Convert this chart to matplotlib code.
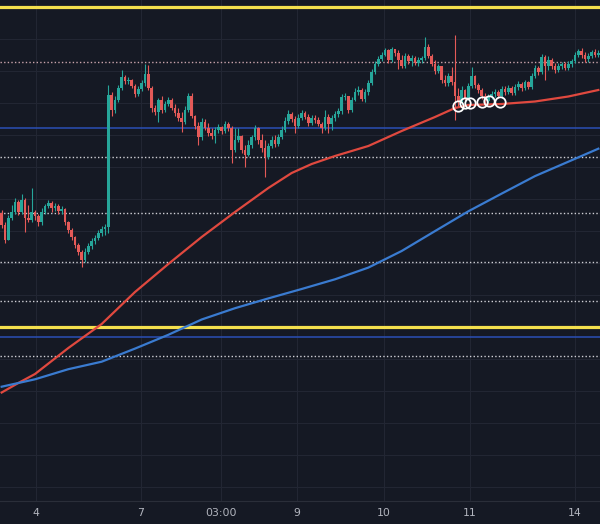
import numpy as np
import matplotlib
matplotlib.use("Agg")
import matplotlib.pyplot as plt

# ---------------- data ----------------
open0 = 147.87
closes = [
    147.75, 147.60, 147.82, 147.88, 147.98, 147.88, 148.00, 147.82, 147.80, 147.88,
    147.84, 147.78, 147.88, 147.94, 147.97, 147.92, 147.94, 147.89, 147.91, 147.78,
    147.70, 147.63, 147.55, 147.48, 147.40, 147.48, 147.54, 147.59, 147.62, 147.67,
    147.71, 147.73, 149.05, 148.90, 149.00, 149.12, 149.23, 149.19, 149.20, 149.14,
    149.06, 149.11, 149.17, 149.26, 149.12, 148.92, 148.88, 149.00, 148.90, 148.96,
    149.00, 148.92, 148.87, 148.82, 148.78, 148.90, 149.04, 148.84, 148.74, 148.63,
    148.78, 148.72, 148.67, 148.64, 148.70, 148.73, 148.69, 148.76, 148.72, 148.50,
    148.60, 148.64, 148.50, 148.45, 148.55, 148.63, 148.72, 148.60, 148.52, 148.43,
    148.54, 148.60, 148.56, 148.63, 148.70, 148.79, 148.86, 148.81, 148.74, 148.82,
    148.87, 148.83, 148.77, 148.82, 148.80, 148.76, 148.72, 148.83, 148.76, 148.82,
    148.86, 148.89, 149.03, 149.04, 148.90, 149.00, 149.08, 149.10, 149.01, 149.08,
    149.17, 149.28, 149.36, 149.41, 149.45, 149.50, 149.40, 149.51, 149.47, 149.40,
    149.34, 149.44, 149.39, 149.42, 149.37, 149.40, 149.42, 149.53, 149.44, 149.36,
    149.29, 149.34, 149.20, 149.17, 149.24, 149.18, 149.04, 148.98, 149.10, 149.02,
    149.14, 149.24, 149.15, 149.10, 149.04, 148.99, 149.03, 149.06, 149.08, 149.04,
    149.11, 149.08, 149.12, 149.07, 149.13, 149.16, 149.12, 149.18, 149.13, 149.24,
    149.32, 149.28, 149.43, 149.34, 149.40, 149.34, 149.30, 149.34, 149.36, 149.32,
    149.36, 149.39, 149.45, 149.49, 149.45, 149.41, 149.44, 149.48, 149.45, 149.47,
]
highs = [
    147.90, 147.78, 147.85, 147.95, 148.02, 148.00, 148.06, 148.02, 147.95, 148.12,
    147.90, 147.86, 147.92, 147.96, 148.00, 147.99, 147.97, 147.96, 147.94, 147.92,
    147.79, 147.72, 147.64, 147.57, 147.50, 147.52, 147.57, 147.62, 147.65, 147.70,
    147.74, 147.76, 149.15, 149.08, 149.04, 149.15, 149.30, 149.25, 149.23, 149.21,
    149.16, 149.14, 149.20, 149.36, 149.35, 149.14, 148.95, 149.02, 149.04, 148.99,
    149.03, 149.02, 148.96, 148.92, 148.88, 148.94, 149.07, 149.07, 148.85, 148.78,
    148.82, 148.81, 148.77, 148.72, 148.73, 148.76, 148.74, 148.79, 148.78, 148.74,
    148.72, 148.72, 148.65, 148.55, 148.60, 148.65, 148.75, 148.73, 148.66, 148.60,
    148.57, 148.64, 148.65, 148.66, 148.74, 148.83, 148.90, 148.88, 148.84, 148.86,
    148.90, 148.89, 148.86, 148.85, 148.85, 148.83, 148.78, 148.90, 148.86, 148.85,
    148.89, 148.92, 149.06, 149.07, 149.04, 149.03, 149.12, 149.14, 149.12, 149.11,
    149.20, 149.31, 149.39, 149.44, 149.48, 149.52, 149.51, 149.53, 149.51, 149.50,
    149.45, 149.47, 149.46, 149.45, 149.44, 149.43, 149.44, 149.63, 149.56, 149.46,
    149.40, 149.36, 149.34, 149.25, 149.27, 149.33, 149.65, 149.12, 149.14, 149.11,
    149.17, 149.33, 149.25, 149.17, 149.12, 149.07, 149.06, 149.09, 149.11, 149.10,
    149.14, 149.14, 149.15, 149.14, 149.16, 149.19, 149.18, 149.20, 149.19, 149.27,
    149.35, 149.34, 149.46, 149.45, 149.44, 149.42, 149.37, 149.37, 149.38, 149.38,
    149.39, 149.41, 149.48, 149.51, 149.52, 149.48, 149.47, 149.50, 149.51, 149.50,
]
lows = [
    147.72, 147.57, 147.60, 147.80, 147.86, 147.85, 147.86, 147.68, 147.78, 147.78,
    147.80, 147.74, 147.75, 147.86, 147.92, 147.88, 147.89, 147.86, 147.86, 147.75,
    147.67, 147.60, 147.52, 147.45, 147.33, 147.38, 147.46, 147.51, 147.56, 147.60,
    147.64, 147.65, 147.67, 148.84, 148.87, 148.98, 149.10, 149.16, 149.16, 149.12,
    149.03, 149.04, 149.09, 149.14, 149.10, 148.88, 148.85, 148.78, 148.87, 148.88,
    148.94, 148.90, 148.84, 148.79, 148.68, 148.76, 148.88, 148.82, 148.71, 148.55,
    148.60, 148.70, 148.64, 148.61, 148.57, 148.67, 148.66, 148.67, 148.69, 148.37,
    148.48, 148.58, 148.47, 148.33, 148.44, 148.52, 148.60, 148.56, 148.48, 148.23,
    148.41, 148.52, 148.53, 148.54, 148.61, 148.68, 148.76, 148.78, 148.67, 148.72,
    148.80, 148.81, 148.74, 148.75, 148.77, 148.74, 148.67, 148.70, 148.67, 148.70,
    148.79, 148.83, 148.86, 149.00, 148.87, 148.88, 148.99, 149.05, 148.99, 148.98,
    149.05, 149.15, 149.26, 149.34, 149.39, 149.44, 149.37, 149.38, 149.44, 149.31,
    149.32, 149.32, 149.36, 149.34, 149.35, 149.34, 149.37, 149.40, 149.42, 149.34,
    149.26, 149.27, 149.17, 149.14, 149.14, 149.15, 148.80, 148.94, 148.96, 148.99,
    149.00, 149.12, 149.12, 149.07, 149.01, 148.96, 148.97, 149.01, 149.03, 149.02,
    149.02, 149.05, 149.06, 149.05, 149.05, 149.10, 149.09, 149.10, 149.11, 149.11,
    149.22, 149.25, 149.26, 149.20, 149.30, 149.31, 149.27, 149.28, 149.31, 149.30,
    149.30, 149.33, 149.37, 149.43, 149.42, 149.38, 149.38, 149.42, 149.43, 149.43,
]

# moving averages (sampled at candle indices)
red_ma_idx = [0, 5, 10, 20, 30, 40, 50, 60, 70, 80, 87, 93, 100, 110, 120, 130, 136, 140, 145, 150, 160, 170, 179]
red_ma_val = [146.075, 146.17, 146.26, 146.52, 146.76, 147.08, 147.36, 147.63, 147.88, 148.12,
              148.27, 148.36, 148.44, 148.54, 148.69, 148.83, 148.92, 148.95, 148.955, 148.96,
              148.985, 149.035, 149.10]
blue_ma_idx = [0, 10, 20, 30, 40, 50, 60, 70, 80, 90, 100, 110, 120, 130, 140, 150, 160, 170, 179]
blue_ma_val = [146.133, 146.207, 146.308, 146.383, 146.514, 146.652, 146.805, 146.918, 147.016,
               147.11, 147.207, 147.324, 147.49, 147.689, 147.887, 148.064, 148.239, 148.383, 148.513]

# signal circles
sig_idx = [136.9, 139.0, 140.5, 144.1, 146.2, 149.5]
sig_val = [148.94, 148.97, 148.97, 148.98, 148.99, 148.98]

# horizontal levels
yellow_levels = [149.93, 146.73]
blue_levels = [148.72, 146.63]
dotted_levels = [148.43, 147.87, 147.38, 146.99, 146.44]
dotted_pink_levels = [149.38]

# x tick labels
tick_idx = [10.3, 41.8, 65.8, 88.6, 114.7, 140.5, 172.0]
tick_labels = ["4", "7", "03:00", "9", "10", "11", "14"]

# ---------------- style ----------------
BG = "#151924"
GRID = "#222633"
UP = "#26a69a"
DOWN = "#e45a58"

fig = plt.figure(figsize=(6.0, 5.24), dpi=100, facecolor=BG)
ax = fig.add_axes([0, 23 / 524, 1, 501 / 524], facecolor=BG)

n = len(closes)
idx = np.arange(n)
closes_a = np.array(closes)
opens_a = np.concatenate([[open0], closes_a[:-1]])
highs_a = np.maximum(np.array(highs), np.maximum(opens_a, closes_a))
lows_a = np.minimum(np.array(lows), np.minimum(opens_a, closes_a))
up = closes_a >= opens_a
colors = np.where(up, UP, DOWN)

# grid
ax.set_yticks(np.arange(145.13, 149.95, 0.32))
ax.set_xticks(tick_idx)
ax.set_xticklabels(tick_labels)
ax.grid(True, color=GRID, lw=0.8, zorder=0)
ax.set_axisbelow(True)

# levels
for lv in yellow_levels:
    ax.axhline(lv, color="#f4e04d", lw=2.3, zorder=1.5)
for lv in blue_levels:
    ax.axhline(lv, color="#2b4fb5", lw=1.1, zorder=1.4)
for lv in dotted_levels:
    ax.axhline(lv, color="#d0d0d6", lw=1.0, ls=(0, (1, 1.6)), zorder=1.3)
for lv in dotted_pink_levels:
    ax.axhline(lv, color="#c9a3ab", lw=1.0, ls=(0, (1, 1.6)), zorder=1.3)

# moving averages
ax.plot(red_ma_idx, red_ma_val, color="#e0493f", lw=1.6, zorder=2, solid_joinstyle="round")
ax.plot(blue_ma_idx, blue_ma_val, color="#3a7bd0", lw=1.6, zorder=2, solid_joinstyle="round")

# candles
ax.vlines(idx, lows_a, highs_a, colors=colors, lw=0.8, zorder=3)
body_bottom = np.minimum(opens_a, closes_a)
body_h = np.maximum(np.abs(closes_a - opens_a), 0.015)
ax.bar(idx, body_h, bottom=body_bottom, width=0.82, color=colors, edgecolor="none", zorder=3.1)

# signal circles
ax.plot(sig_idx, sig_val, ls="none", marker="o", ms=7.5, mfc="none", mec="white", mew=1.3, zorder=4)

ax.set_xlim(-0.5, n - 0.5)
ax.set_ylim(144.99, 150.00)

for s in ["top", "left", "right"]:
    ax.spines[s].set_visible(False)
ax.spines["bottom"].set_color("#2a2e39")
ax.tick_params(axis="y", left=False, labelleft=False)
ax.tick_params(axis="x", length=0, pad=5, labelsize=7.8, labelcolor="#b2b5be")

fig.savefig("out.png", dpi=100, facecolor=BG)
